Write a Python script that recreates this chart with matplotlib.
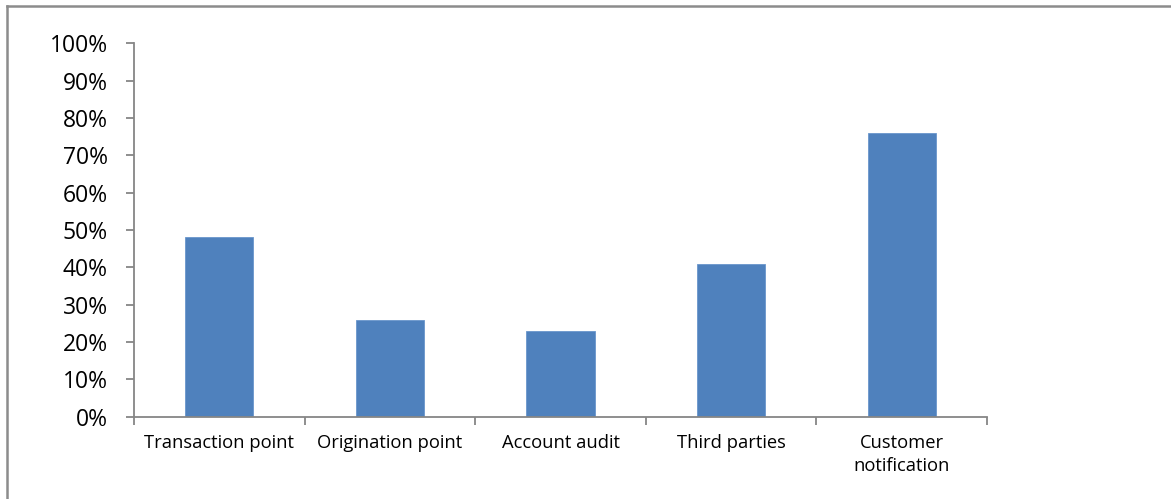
import numpy as np
import matplotlib
matplotlib.use('Agg')
from matplotlib import pyplot as plt
from matplotlib.lines import Line2D

categories = ['Transaction point', 'Origination point', 'Account audit', 'Third parties', 'Customer\nnotification']
values = [0.48, 0.26, 0.23, 0.41, 0.76]
yticks = np.arange(0, 1.01, 0.1)
ytick_labels = ['%d%%' % round(t * 100) for t in yticks]

plt.rcParams['font.family'] = ['Open Sans', 'DejaVu Sans']

grey = '#868686'
fig = plt.figure(figsize=(11.71, 4.99), dpi=100)
ax = fig.add_axes([134 / 1171, 82.3 / 499, 853 / 1171, 373.4 / 499])

x = np.arange(len(categories))
ax.bar(x, values, width=0.4, color='#4F81BD', edgecolor='#6A96CC', linewidth=0.6)

ax.set_xlim(-0.5, len(categories) - 0.5)
ax.set_ylim(0, 1)
ax.set_yticks(yticks)
ax.set_yticklabels(ytick_labels, fontsize=16.5)
ax.set_xticks(x)
ax.set_xticklabels(categories, fontsize=13.2, linespacing=1.35)
ax.set_xticks(np.arange(-0.5, len(categories)), minor=True)

ax.tick_params(axis='x', which='major', length=0, pad=12.5)
ax.tick_params(axis='x', which='minor', length=6, width=1.3, color=grey)
ax.tick_params(axis='y', length=6, width=1.3, color=grey, pad=13)

for s in ['top', 'right']:
    ax.spines[s].set_visible(False)
for s in ['left', 'bottom']:
    ax.spines[s].set_color(grey)
    ax.spines[s].set_linewidth(1.3)

# chart frame (only top and left visible in reference)
fig.add_artist(Line2D([7 / 1171, 7 / 1171], [0, 1 - 6 / 499], color='#8c8c8c', lw=1.8, transform=fig.transFigure))
fig.add_artist(Line2D([7 / 1171, 1], [1 - 6 / 499, 1 - 6 / 499], color='#8c8c8c', lw=1.8, transform=fig.transFigure))

fig.savefig('out.png', dpi=100)
